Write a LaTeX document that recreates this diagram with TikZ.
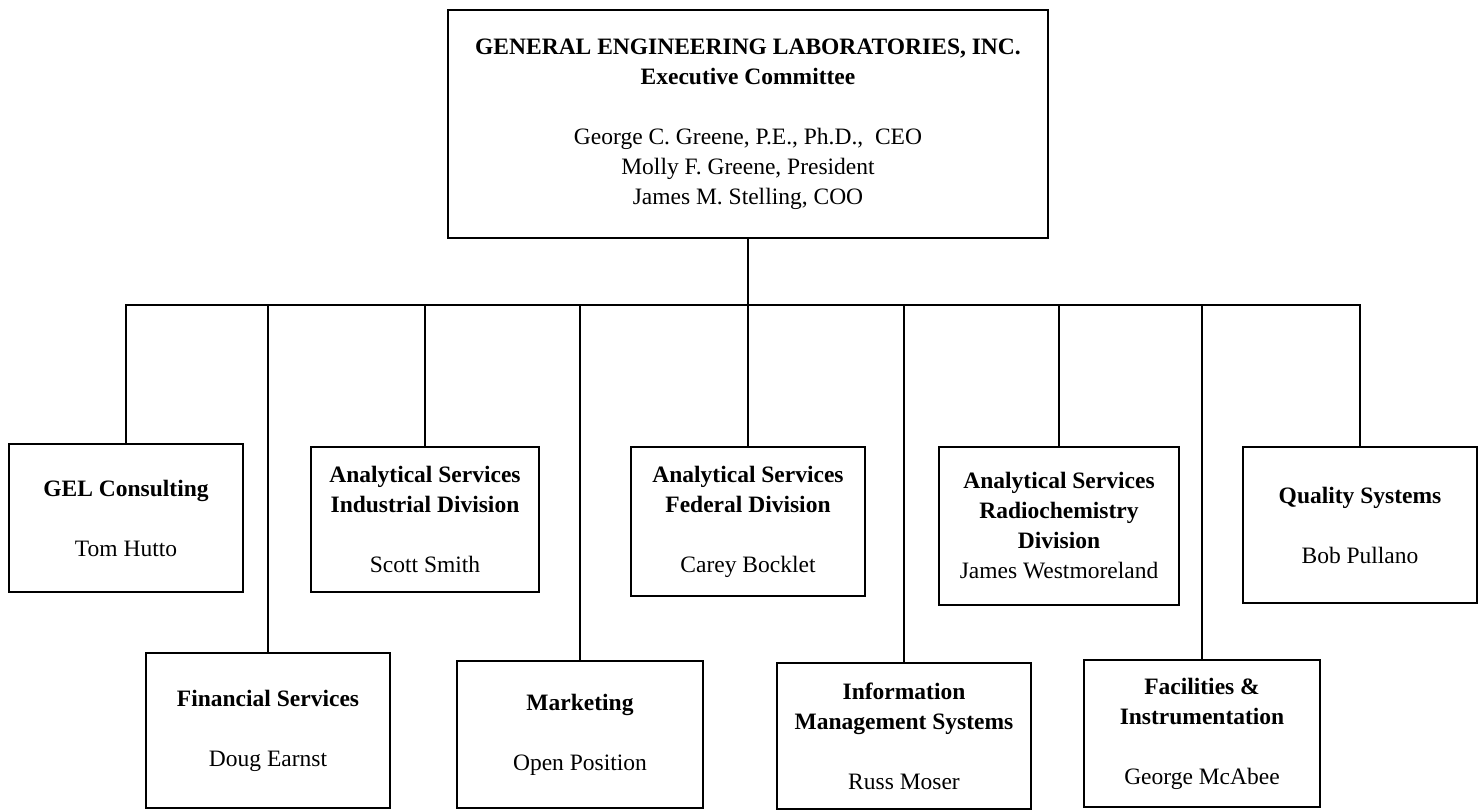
\documentclass[tikz,border=0pt]{standalone}
\usepackage{fontspec}
\setmainfont{Liberation Serif}
\begin{document}
\begin{tikzpicture}[x=1pt,y=-1pt,
  box/.style={draw, line width=2pt, rectangle, align=center, inner sep=0pt,
    font=\fontsize{23.5}{30}\selectfont},
  link/.style={line width=2pt}]
\useasboundingbox (0,0) rectangle (1483,811);
\node[box, minimum width=600pt, minimum height=228pt] (top) at (748,124)
  {\textbf{GENERAL ENGINEERING LABORATORIES, INC.}\\ \textbf{Executive Committee}\\[30pt]
   George C. Greene, P.E., Ph.D.,\ \ CEO\\ Molly F. Greene, President\\ James M. Stelling, COO};
\node[box, minimum width=234pt, minimum height=148pt] (gel) at (126,518)
  {\textbf{GEL Consulting}\\[30pt] Tom Hutto};
\node[box, minimum width=244pt, minimum height=155pt] (fin) at (268,730.5)
  {\textbf{Financial Services}\\[30pt] Doug Earnst};
\node[box, minimum width=228pt, minimum height=145pt] (ind) at (425,519.5)
  {\textbf{Analytical Services}\\ \textbf{Industrial Division}\\[30pt] Scott Smith};
\node[box, minimum width=246pt, minimum height=147pt] (mkt) at (580,734.5)
  {\textbf{Marketing}\\[30pt] Open Position};
\node[box, minimum width=234pt, minimum height=149pt] (fed) at (748,521.5)
  {\textbf{Analytical Services}\\ \textbf{Federal Division}\\[30pt] Carey Bocklet};
\node[box, minimum width=254pt, minimum height=146pt] (info) at (904,736)
  {\textbf{Information}\\ \textbf{Management Systems}\\[30pt] Russ Moser};
\node[box, minimum width=240pt, minimum height=158pt] (rad) at (1059,526)
  {\textbf{Analytical Services}\\ \textbf{Radiochemistry}\\ \textbf{Division}\\ James Westmoreland};
\node[box, minimum width=236pt, minimum height=147pt] (fac) at (1202,733.5)
  {\textbf{Facilities \&}\\ \textbf{Instrumentation}\\[30pt] George McAbee};
\node[box, minimum width=234pt, minimum height=156pt] (qual) at (1360,525)
  {\textbf{Quality Systems}\\[30pt] Bob Pullano};
\coordinate (barY) at (0,305);
\draw[link] (top.south) -- (top.south |- barY);
\draw[link] (gel.north) -- (gel.north |- barY) -- (qual.north |- barY) -- (qual.north);
\foreach \c in {fin,ind,mkt,fed,info,rad,fac}
  \draw[link] (\c.north |- barY) -- (\c.north);
\end{tikzpicture}
\end{document}
